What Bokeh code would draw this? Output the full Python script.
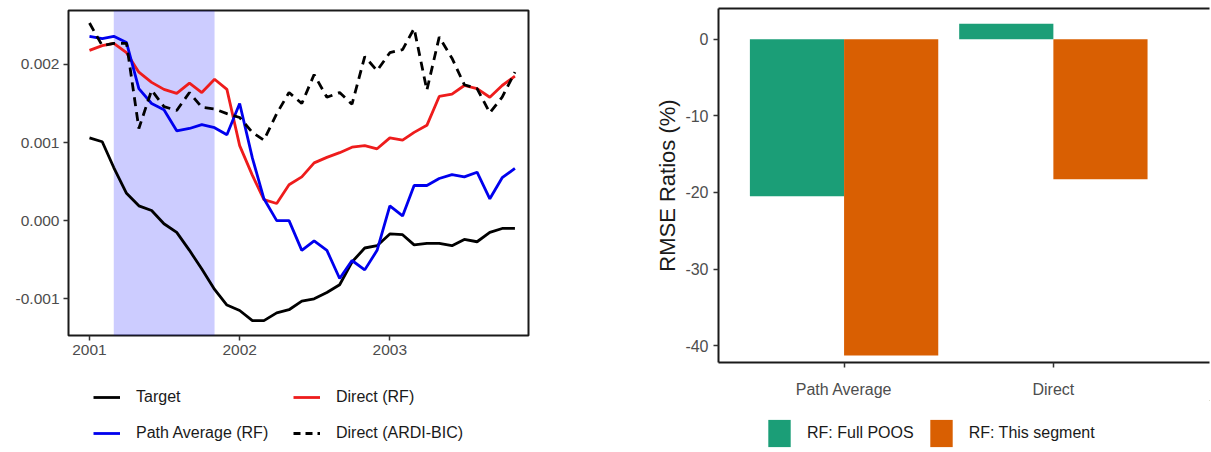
import numpy as np
import pandas as pd
from bokeh.plotting import figure
from bokeh.models import (Range1d, FixedTicker, BoxAnnotation, Legend, LegendItem,
                          LinearAxis, DatetimeTickFormatter, PrintfTickFormatter)
from bokeh.layouts import row, column
from bokeh.embed import file_html
from bokeh.resources import INLINE

# ---------------- data: left panel ----------------
months = pd.date_range("2001-01-01", periods=35, freq="MS")
target = [0.00106, 0.00101, 0.00068, 0.00035, 0.00019, 0.00013, -0.00004, -0.00015,
          -0.00038, -0.00062, -0.00088, -0.00108, -0.00115, -0.00128, -0.00128, -0.00118,
          -0.00114, -0.00103, -0.00100, -0.00092, -0.00082, -0.00053, -0.00035, -0.00032,
          -0.00017, -0.00018, -0.00031, -0.00029, -0.00029, -0.00032, -0.00024, -0.00027,
          -0.00015, -0.00010, -0.00010]
path_average_rf = [0.00236, 0.00233, 0.00236, 0.00228, 0.00169, 0.00150, 0.00142, 0.00115,
                   0.00118, 0.00123, 0.00119, 0.00110, 0.00150, 0.00080, 0.00028, 0.00000,
                   0.00000, -0.00038, -0.00026, -0.00038, -0.00074, -0.00051, -0.00063, -0.00038,
                   0.00019, 0.00006, 0.00045, 0.00045, 0.00054, 0.00059, 0.00056, 0.00062,
                   0.00028, 0.00055, 0.00067]
direct_rf = [0.00218, 0.00224, 0.00227, 0.00215, 0.00190, 0.00177, 0.00168, 0.00163,
             0.00176, 0.00164, 0.00181, 0.00168, 0.00096, 0.00058, 0.00027, 0.00022,
             0.00046, 0.00056, 0.00074, 0.00081, 0.00087, 0.00094, 0.00096, 0.00092,
             0.00106, 0.00103, 0.00113, 0.00122, 0.00159, 0.00162, 0.00173, 0.00169,
             0.00158, 0.00173, 0.00185]
direct_ardi_bic = [0.00253, 0.00224, 0.00227, 0.00227, 0.00118, 0.00167, 0.00146, 0.00141,
                   0.00164, 0.00145, 0.00143, 0.00137, 0.00132, 0.00113, 0.00103, 0.00137,
                   0.00164, 0.00150, 0.00187, 0.00158, 0.00164, 0.00149, 0.00210, 0.00192,
                   0.00215, 0.00219, 0.00246, 0.00167, 0.00235, 0.00208, 0.00174, 0.00169,
                   0.00138, 0.00158, 0.00190]
recession = ["2001-03-01", "2001-11-01"]
year_ticks = ["2001-01-01", "2002-01-01", "2003-01-01"]
y_ticks = [-0.001, 0.0, 0.001, 0.002]

# ---------------- data: right panel ----------------
categories = ["Path Average", "Direct"]
rf_full_poos = [-20.5, 2.0]
rf_this_segment = [-41.3, -18.3]
rmse_ticks = [0, -10, -20, -30, -40]

FONT = "Liberation Sans"
GREY = "#4D4D4D"
C_TARGET, C_DIRECT, C_PATH = "black", "#EE1C1C", "#0000EE"
C_GREEN, C_ORANGE = "#1B9E77", "#D95F02"
LW = 2.8
DASH = "9 6"


def ms(s):
    return pd.Timestamp(s).value / 1e6


def legend_fig(width, height, left, right):
    # a strip that only carries a legend; its ranges are far away from the data
    f = figure(width=width, height=height, x_range=Range1d(-1e3, -999), y_range=Range1d(-1e3, -999),
               output_backend="svg", toolbar_location=None,
               x_axis_location=None, y_axis_location=None,
               min_border_left=left, min_border_right=right, min_border_top=0, min_border_bottom=0)
    f.grid.visible = False
    f.outline_line_color = None
    f.background_fill_color = "white"
    f.border_fill_color = "white"
    return f


# ================= LEFT =================
x0 = pd.Timestamp("2001-01-01") - pd.Timedelta(days=51)
x1 = pd.Timestamp("2003-12-04")
p1 = figure(width=568, height=371, x_axis_type="datetime",
            x_range=Range1d(ms(x0), ms(x1)), y_range=Range1d(-0.00147, 0.00269),
            output_backend="svg", toolbar_location=None,
            min_border_left=68, min_border_right=40, min_border_top=10, min_border_bottom=36)
p1.grid.visible = False
p1.outline_line_color = "#1a1a1a"
p1.outline_line_width = 2
p1.background_fill_color = "white"
p1.border_fill_color = "white"

p1.add_layout(BoxAnnotation(left=ms(recession[0]), right=ms(recession[1]),
                            fill_color="#0000FF", fill_alpha=0.2, line_color=None,
                            level="underlay"))

p1.line(months, target, line_color=C_TARGET, line_width=LW)
p1.line(months, direct_rf, line_color=C_DIRECT, line_width=LW)
p1.line(months, path_average_rf, line_color=C_PATH, line_width=LW)
p1.line(months, direct_ardi_bic, line_color="black", line_width=LW, line_dash=DASH)

p1.xaxis.ticker = FixedTicker(ticks=[ms(t) for t in year_ticks])
fmt = "%Y"
p1.xaxis.formatter = DatetimeTickFormatter(years=fmt, months=fmt, days=fmt, hours=fmt,
                                           hourmin=fmt, minutes=fmt, minsec=fmt, seconds=fmt,
                                           milliseconds=fmt, microseconds=fmt, context=None)
p1.yaxis.ticker = FixedTicker(ticks=y_ticks)
p1.yaxis.formatter = PrintfTickFormatter(format="%.3f")
for ax in (p1.xaxis, p1.yaxis):
    ax.axis_line_color = None
    ax.major_tick_in = 0
    ax.major_tick_out = 5
    ax.major_tick_line_color = "#333333"
    ax.major_tick_line_width = 1.5
    ax.minor_tick_line_color = None
    ax.major_label_text_font = FONT
    ax.major_label_text_font_size = "15.5px"
    ax.major_label_text_color = GREY
    ax.major_label_standoff = 4

# legend for left panel (separate strip below, frame aligned with p1)
lf1 = legend_fig(568, 81, left=68, right=40)
k_t = lf1.line(months, target, line_color=C_TARGET, line_width=LW)
k_p = lf1.line(months, path_average_rf, line_color=C_PATH, line_width=LW)
k_d = lf1.line(months, direct_rf, line_color=C_DIRECT, line_width=LW)
k_a = lf1.line(months, direct_ardi_bic, line_color="black", line_width=LW, line_dash="7 5")
leg1 = Legend(items=[LegendItem(label="Target", renderers=[k_t]),
                     LegendItem(label="Path Average (RF)", renderers=[k_p]),
                     LegendItem(label="Direct (RF)", renderers=[k_d]),
                     LegendItem(label="Direct (ARDI-BIC)", renderers=[k_a])],
              orientation="vertical", nrows=2, location=(25, 7),
              margin=0, padding=0, spacing=12,
              glyph_width=27, glyph_height=24, label_height=24, label_width=145,
              label_standoff=16, label_text_font=FONT, label_text_font_size="16px",
              label_text_color="#1a1a1a", border_line_color=None,
              background_fill_alpha=0)
lf1.add_layout(leg1)

# ================= RIGHT =================
xs = np.arange(1, len(categories) + 1)
p2 = figure(width=643, height=400, x_range=Range1d(0.4, 2.746), y_range=Range1d(-42.2, 4.0),
            output_backend="svg", toolbar_location=None,
            min_border_left=150, min_border_right=2, min_border_top=8, min_border_bottom=36)
p2.grid.visible = False
p2.outline_line_color = None
p2.background_fill_color = "white"
p2.border_fill_color = "white"

p2.vbar(x=xs - 0.225, top=rf_full_poos, bottom=0, width=0.45,
        fill_color=C_GREEN, line_color=None)
p2.vbar(x=xs + 0.225, top=rf_this_segment, bottom=0, width=0.45,
        fill_color=C_ORANGE, line_color=None)

p2.xaxis.ticker = FixedTicker(ticks=list(xs))
p2.xaxis.major_label_overrides = {int(i): c for i, c in zip(xs, categories)}
p2.yaxis.ticker = FixedTicker(ticks=rmse_ticks)
p2.yaxis.formatter = PrintfTickFormatter(format="%d")
p2.yaxis.axis_label = "RMSE Ratios (%)"
p2.yaxis.axis_label_text_font = FONT
p2.yaxis.axis_label_text_font_size = "22px"
p2.yaxis.axis_label_text_font_style = "normal"
p2.yaxis.axis_label_text_color = "#1a1a1a"
p2.yaxis.axis_label_standoff = 2
for ax in (p2.xaxis, p2.yaxis):
    ax.axis_line_color = "#1a1a1a"
    ax.axis_line_width = 2
    ax.major_tick_in = 0
    ax.major_tick_out = 5
    ax.major_tick_line_color = "#333333"
    ax.major_tick_line_width = 1.5
    ax.minor_tick_line_color = None
    ax.major_label_text_font = FONT
    ax.major_label_text_font_size = "16px"
    ax.major_label_text_color = GREY
    ax.major_label_standoff = 5
p2.xaxis.major_label_standoff = 13

top_axis = LinearAxis(ticker=FixedTicker(ticks=[]), axis_line_color="#1a1a1a",
                      axis_line_width=2, major_tick_line_color=None,
                      minor_tick_line_color=None, major_label_text_font_size="0px")
p2.add_layout(top_axis, "above")

lf2 = legend_fig(643, 52, left=150, right=2)
k_g = lf2.vbar(x=xs, top=rf_full_poos, width=0.45, fill_color=C_GREEN, line_color=None)
k_o = lf2.vbar(x=xs, top=rf_this_segment, width=0.45, fill_color=C_ORANGE, line_color=None)
leg2 = Legend(items=[LegendItem(label="RF: Full POOS", renderers=[k_g]),
                     LegendItem(label="RF: This segment", renderers=[k_o])],
              orientation="horizontal", location=(47, 2), margin=0, padding=0,
              spacing=13, glyph_width=28, glyph_height=34, label_height=34,
              label_standoff=14, label_text_font=FONT, label_text_font_size="16px",
              label_text_color="#1a1a1a", border_line_color=None,
              background_fill_alpha=0)
lf2.add_layout(leg2)

layout = row(column(p1, lf1), column(p2, lf2))
open("out.html", "w").write(file_html(layout, INLINE))
